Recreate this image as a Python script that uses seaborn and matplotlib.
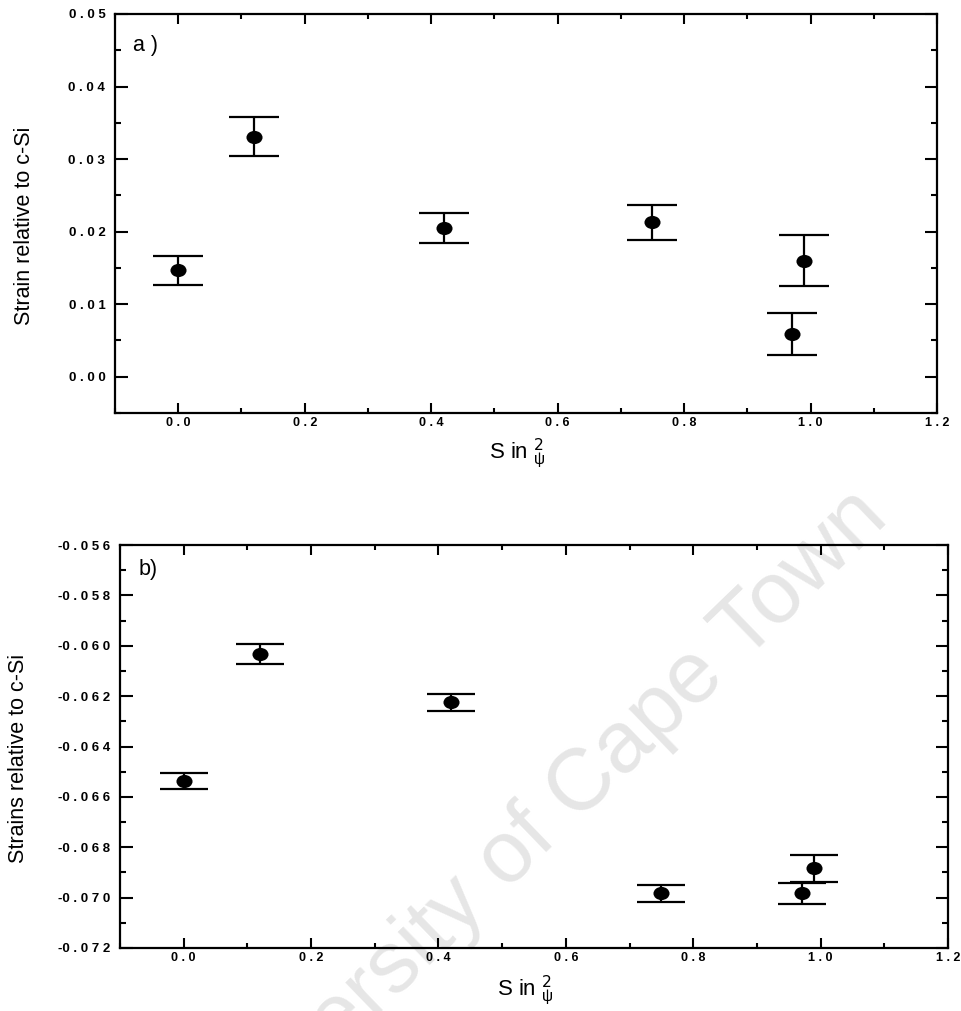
import matplotlib
matplotlib.use("Agg")
import matplotlib.pyplot as plt
import seaborn as sns
from matplotlib.markers import MarkerStyle
from matplotlib.transforms import Affine2D
from matplotlib.ticker import FixedLocator, MultipleLocator, FixedFormatter

# --- data -------------------------------------------------------------
sin2psi_a = [0.00, 0.12, 0.42, 0.75, 0.99, 0.97]
strain_a = [0.0147, 0.0331, 0.0205, 0.0213, 0.0160, 0.0059]
err_a = [0.0020, 0.0027, 0.0020, 0.0024, 0.0035, 0.0029]

sin2psi_b = [0.00, 0.12, 0.42, 0.75, 0.99, 0.97]
strain_b = [-0.06537, -0.06033, -0.06224, -0.06983, -0.06884, -0.06982]
err_b = [0.00032, 0.00038, 0.00034, 0.00035, 0.00052, 0.00042]

xticks = [0.0, 0.2, 0.4, 0.6, 0.8, 1.0, 1.2]
yticks_a = [0.00, 0.01, 0.02, 0.03, 0.04, 0.05]
yticks_b = [-0.072, -0.070, -0.068, -0.066, -0.064, -0.062, -0.060, -0.058, -0.056]

ylabel_a = "Strain relative to c-Si"
ylabel_b = "Strains relative to c-Si"
xlabel = r"S in $^{2}_{\mathregular{ψ}}$"
panel_a = "a )"
panel_b = "b)"
watermark = "University of Cape Town"

# --- style ------------------------------------------------------------
sns.set_theme(style="ticks")
plt.rcParams["font.family"] = ["Liberation Sans", "DejaVu Sans"]
plt.rcParams["axes.linewidth"] = 1.6


def spaced(s):
    return " ".join(s).replace("- ", "-")


fig = plt.figure(figsize=(9.62, 10.11), dpi=100)
fig.patch.set_facecolor("white")

fig.text(536 / 962, 1 - 832 / 1011, watermark, rotation=44, fontsize=63,
         color="#e6e6e6", ha="center", va="center", rotation_mode="anchor",
         zorder=0)

ax_a = fig.add_axes([115 / 962, 1 - 413 / 1011, 822 / 962, 399 / 1011])
ax_b = fig.add_axes([120 / 962, 1 - 948 / 1011, 828 / 962, 403 / 1011])

ellipse = MarkerStyle("o", transform=Affine2D().scale(1.22, 1.0))

panels = [
    (ax_a, sin2psi_a, strain_a, err_a, yticks_a, "{:.2f}", 0.005,
     (-0.005, 0.05), ylabel_a, panel_a, 18, -0.0975, -0.058, 0.922),
    (ax_b, sin2psi_b, strain_b, err_b, yticks_b, "{:.3f}", 0.001,
     (-0.072, -0.056), ylabel_b, panel_b, 17, -0.110, -0.064, 0.94),
]

for (ax, xs, ys, es, yt, yfmt, yminor, ylim, ylab, plab, cap,
     ylab_x, xlab_y, plab_y) in panels:
    ax.set_zorder(1)
    ax.set_facecolor("none")
    ax.errorbar(xs, ys, yerr=es, fmt="none", ecolor="black",
                elinewidth=1.6, capsize=cap, capthick=1.6, zorder=2)
    sns.scatterplot(x=xs, y=ys, ax=ax, marker=ellipse, s=90, color="black",
                    edgecolor="black", linewidth=0, zorder=3, legend=False)
    ax.set_xlim(-0.1, 1.2)
    ax.set_ylim(*ylim)

    ax.xaxis.set_major_locator(FixedLocator(xticks))
    ax.xaxis.set_major_formatter(FixedFormatter([spaced(f"{v:.1f}") for v in xticks]))
    ax.xaxis.set_minor_locator(MultipleLocator(0.1))
    ax.yaxis.set_major_locator(FixedLocator(yt))
    ax.yaxis.set_major_formatter(FixedFormatter([spaced(yfmt.format(v)) for v in yt]))
    ax.yaxis.set_minor_locator(MultipleLocator(yminor))

    ax.tick_params(axis="both", which="both", direction="in",
                   top=True, right=True, colors="black", width=1.5)
    ax.tick_params(axis="x", which="major", length=7, pad=3)
    ax.tick_params(axis="x", which="minor", length=3.5)
    ax.tick_params(axis="y", which="major", length=9, pad=7)
    ax.tick_params(axis="y", which="minor", length=4.5)
    for lab in ax.get_xticklabels():
        lab.set_fontweight("bold")
        lab.set_fontsize(9)
    for lab in ax.get_yticklabels():
        lab.set_fontweight("bold")
        lab.set_fontsize(9.5)

    for sp in ax.spines.values():
        sp.set_color("black")
        sp.set_linewidth(1.6)

    ax.set_ylabel(ylab, fontsize=15.5, color="black")
    ax.yaxis.set_label_coords(ylab_x, 0.47)
    ax.set_xlabel(xlabel, fontsize=16, color="black")
    ax.xaxis.set_label_coords(0.49, xlab_y)
    ax.xaxis.label.set_va("top")

    ax.text(0.022, plab_y, plab, transform=ax.transAxes, fontsize=15.5,
            color="black", ha="left", va="center")

fig.savefig("out.png", dpi=100, facecolor="white")
